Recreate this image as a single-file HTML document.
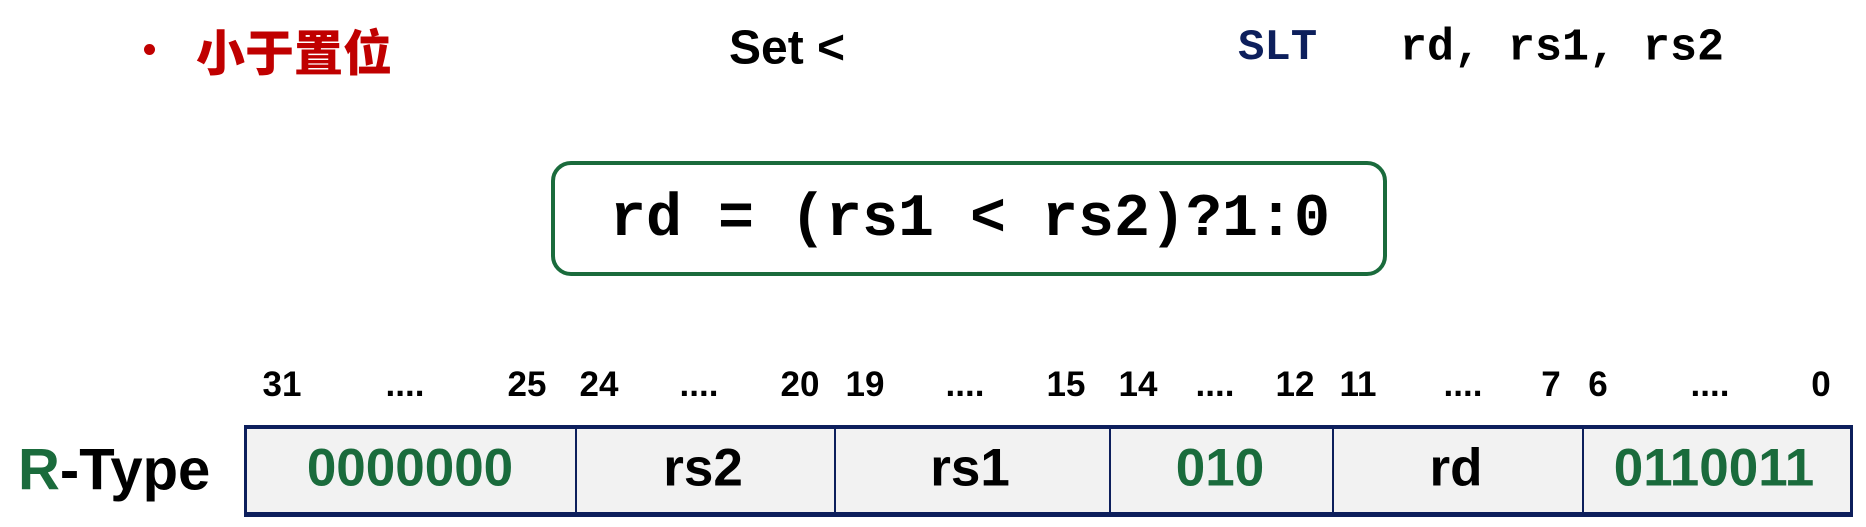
<!DOCTYPE html>
<html><head><meta charset="utf-8"><style>
body{margin:0;width:1866px;height:527px;background:#fff;position:relative;overflow:hidden;font-family:"Liberation Sans","Noto Sans CJK SC",sans-serif;font-weight:bold}
.a{position:absolute;white-space:nowrap;transform:translate(-50%,-50%)}
.l{position:absolute;white-space:nowrap;transform:translateY(-50%)}
.mono{font-family:"Liberation Mono","DejaVu Sans Mono",monospace}
.box{position:absolute;left:551px;top:161px;width:828px;height:107px;border:4px solid #1a6b3c;border-radius:20px}
.tbl{position:absolute;left:244px;top:425px;width:1603px;height:83px;border:3px solid #0d1f5c;border-top-width:4px;border-bottom-width:5px;background:#f2f2f2}
.d{position:absolute;top:0;width:2px;height:100%;background:#0d1f5c}
.n{font-size:35px}
.c{font-size:53px}
.g{color:#1a6b3c}
</style></head><body>
<div style="position:absolute;left:144px;top:44px;width:11px;height:11px;border-radius:50%;background:#c00000"></div>
<div class="l" style="left:196px;top:50px;color:#c00000;font-size:49px;font-family:'Noto Sans CJK SC',sans-serif;font-weight:900">小于置位</div>
<div class="l" style="left:729px;top:48px;font-size:48px">Set &lt;</div>
<div class="l mono" style="left:1238px;top:48px;font-size:44px;color:#0d1f5c">SLT</div>
<div class="l mono" style="left:1400px;top:48px;font-size:45px">rd, rs1, rs2</div>
<div class="box"></div>
<div class="a mono" style="left:970px;top:220px;font-size:60px">rd = (rs1 &lt; rs2)?1:0</div>
<div class="a n" style="left:282px;top:385px">31</div>
<div class="a n" style="left:405px;top:385px">....</div>
<div class="a n" style="left:527px;top:385px">25</div>
<div class="a n" style="left:599px;top:385px">24</div>
<div class="a n" style="left:699px;top:385px">....</div>
<div class="a n" style="left:800px;top:385px">20</div>
<div class="a n" style="left:865px;top:385px">19</div>
<div class="a n" style="left:965px;top:385px">....</div>
<div class="a n" style="left:1066px;top:385px">15</div>
<div class="a n" style="left:1138px;top:385px">14</div>
<div class="a n" style="left:1215px;top:385px">....</div>
<div class="a n" style="left:1295px;top:385px">12</div>
<div class="a n" style="left:1358px;top:385px">11</div>
<div class="a n" style="left:1463px;top:385px">....</div>
<div class="a n" style="left:1551px;top:385px">7</div>
<div class="a n" style="left:1598px;top:385px">6</div>
<div class="a n" style="left:1710px;top:385px">....</div>
<div class="a n" style="left:1821px;top:385px">0</div>
<div class="l" style="left:18px;top:470px;font-size:58px"><span class="g">R</span>-Type</div>
<div class="tbl">
<div class="d" style="left:328px"></div>
<div class="d" style="left:587px"></div>
<div class="d" style="left:862px"></div>
<div class="d" style="left:1085px"></div>
<div class="d" style="left:1335px"></div>
</div>
<div class="a c g" style="left:410px;top:468px">0000000</div>
<div class="a c" style="left:703px;top:468px">rs2</div>
<div class="a c" style="left:970px;top:468px">rs1</div>
<div class="a c g" style="left:1220px;top:468px">010</div>
<div class="a c" style="left:1456px;top:468px">rd</div>
<div class="a c g" style="left:1714px;top:468px">0110011</div>
</body></html>
